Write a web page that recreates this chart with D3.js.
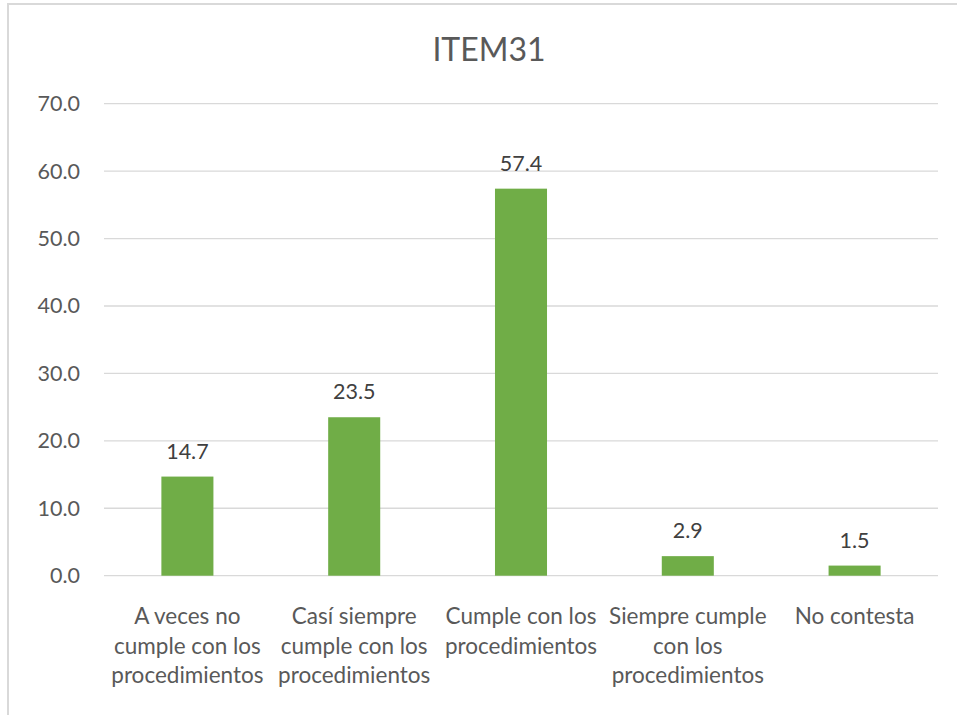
<!DOCTYPE html>
<html>
<head>
<meta charset="utf-8">
<script src="https://cdn.jsdelivr.net/npm/d3@7"></script>
<style>
	body { margin: 0; background: #fff; }
	svg text { font-family: Lato, "Open Sans", sans-serif; }
</style>
</head>
<body>
<div id="chart-area"></div>
<script>
// Chart values
let categories = [
	["A veces no", "cumple con los", "procedimientos"],
	["Casí siempre", "cumple con los", "procedimientos"],
	["Cumple con los", "procedimientos"],
	["Siempre cumple", "con los", "procedimientos"],
	["No contesta"]
];
let values = [14.7, 23.5, 57.4, 2.9, 1.5];
let yTicks = [0, 10, 20, 30, 40, 50, 60, 70];
let title = "ITEM31";

let width = 957,
	height = 715;

let svg = d3.select("#chart-area").append("svg")
	.attr("width", width)
	.attr("height", height);

// outer chart border (runs off the right and bottom edges)
svg.append("rect")
	.attr("x", 8)
	.attr("y", 4)
	.attr("width", 970)
	.attr("height", 740)
	.attr("fill", "none")
	.attr("stroke", "#d9d9d9")
	.attr("stroke-width", 2);

let margin = {top: 103.7, left: 104, right: 19, bottom: 139.3};

let x = d3.scaleBand()
	.domain(d3.range(values.length))
	.range([margin.left, width - margin.right])
	.paddingInner(0.688)
	.paddingOuter(0.344);

let y = d3.scaleLinear()
	.domain([0, 70])
	.range([height - margin.bottom, margin.top]);

// gridlines
svg.append("g")
	.selectAll("line")
	.data(yTicks)
	.enter()
	.append("line")
	.attr("x1", margin.left)
	.attr("x2", width - margin.right)
	.attr("y1", d => y(d))
	.attr("y2", d => y(d))
	.attr("stroke", "#d9d9d9")
	.attr("stroke-width", 1.3);

// y axis labels
let yAxis = d3.axisLeft(y)
	.tickValues(yTicks)
	.tickFormat(d3.format(".1f"))
	.tickSize(0)
	.tickPadding(24);

svg.append("g")
	.attr("class", "axis y-axis")
	.attr("transform", "translate(" + margin.left + ",0)")
	.call(yAxis)
	.call(g => g.select(".domain").remove())
	.selectAll("text")
	.attr("fill", "#595959")
	.style("font-size", "21.5px");

// bars
svg.append("g")
	.selectAll("rect")
	.data(values)
	.enter()
	.append("rect")
	.attr("x", (d, i) => x(i))
	.attr("width", x.bandwidth())
	.attr("y", d => y(d))
	.attr("height", d => y(0) - y(d))
	.attr("fill", "#70ad47");

// value labels
svg.append("g")
	.selectAll("text")
	.data(values)
	.enter()
	.append("text")
	.attr("x", (d, i) => x(i) + x.bandwidth() / 2)
	.attr("y", d => y(d) - 18)
	.attr("text-anchor", "middle")
	.attr("fill", "#404040")
	.style("font-size", "21.5px")
	.text(d => d3.format(".1f")(d));

// category labels
let catG = svg.append("g")
	.selectAll("text")
	.data(categories)
	.enter()
	.append("text")
	.attr("text-anchor", "middle")
	.attr("fill", "#595959")
	.style("font-size", "22.5px");

catG.selectAll("tspan")
	.data((d, i) => d.map(line => ({line: line, i: i})))
	.enter()
	.append("tspan")
	.attr("x", d => x(d.i) + x.bandwidth() / 2)
	.attr("y", (d, j) => 624 + j * 29.5)
	.text(d => d.line);

// title
svg.append("text")
	.attr("x", 489)
	.attr("y", 61)
	.attr("text-anchor", "middle")
	.attr("fill", "#595959")
	.style("font-size", "32px")
	.text(title);
</script>
</body>
</html>
